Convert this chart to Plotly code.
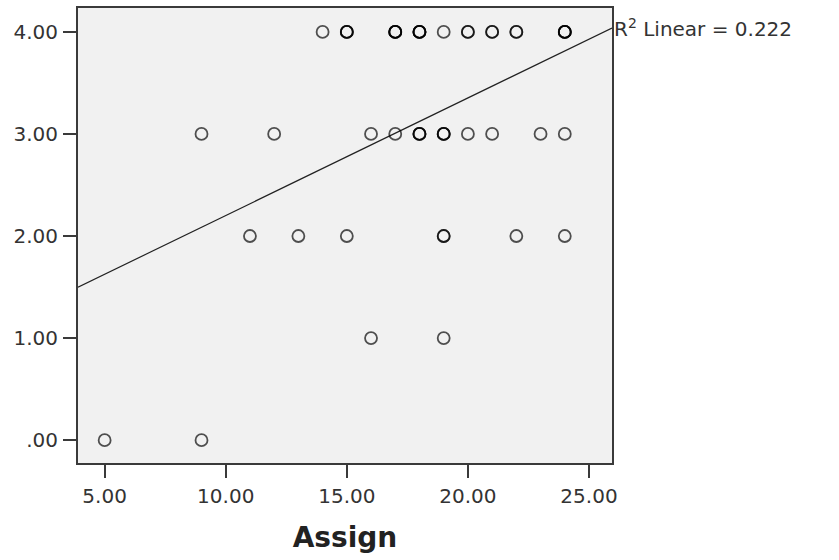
import numpy as np
import plotly.graph_objects as go

# Assignment score vs. outcome (repeated pairs are drawn on top of each other)
assign = [5, 9,
          16, 19,
          11, 13, 15, 19, 19, 22, 24,
          9, 12, 16, 17, 18, 18, 18, 19, 19, 19, 20, 21, 23, 24,
          14, 15, 15, 15, 17, 17, 17, 17, 18, 18, 18, 18, 19, 20, 20,
          21, 21, 22, 22, 24, 24, 24, 24]
outcome = [0, 0,
           1, 1,
           2, 2, 2, 2, 2, 2, 2,
           3, 3, 3, 3, 3, 3, 3, 3, 3, 3, 3, 3, 3, 3,
           4, 4, 4, 4, 4, 4, 4, 4, 4, 4, 4, 4, 4, 4, 4,
           4, 4, 4, 4, 4, 4, 4, 4]

x_ticks = [5, 10, 15, 20, 25]
x_ticktext = ["5.00", "10.00", "15.00", "20.00", "25.00"]
y_ticks = [0, 1, 2, 3, 4]
y_ticktext = [".00", "1.00", "2.00", "3.00", "4.00"]
r2_label = "R<sup>2</sup> Linear = 0.222"

x_range = [3.9, 25.95]
y_range = [-0.224, 4.234]

# least-squares fit line across the full x range
slope, intercept = np.polyfit(assign, outcome, 1)
fit_x = np.array(x_range)
fit_y = intercept + slope * fit_x

FONT = "DejaVu Sans"
INK = "#333333"

fig = go.Figure()
fig.add_trace(go.Scatter(
    x=fit_x, y=fit_y, mode="lines",
    line=dict(color="#222222", width=1.2),
    hoverinfo="skip", showlegend=False,
))
fig.add_trace(go.Scatter(
    x=assign, y=outcome, mode="markers",
    marker=dict(symbol="circle-open", size=12, color="rgba(0,0,0,0.68)",
                line=dict(width=1.8)),
    showlegend=False,
))

fig.add_annotation(
    x=1.0, xref="paper", y=fit_y[1], yref="y",
    text=r2_label, showarrow=False,
    xanchor="left", yanchor="middle", xshift=0,
    font=dict(family=FONT, size=20, color=INK),
)

axis_common = dict(
    showgrid=False, zeroline=False,
    showline=True, mirror=True, linecolor="#3a3a3a", linewidth=2,
    ticks="outside", ticklen=13, tickwidth=2, tickcolor="#3a3a3a",
    tickfont=dict(family=FONT, size=20, color=INK),
    ticklabelstandoff=1,
)

fig.update_xaxes(
    range=x_range, tickvals=x_ticks, ticktext=x_ticktext,
    title=dict(text="<b>Assign</b>", font=dict(family=FONT, size=28, color="#222222"),
               standoff=20),
    **axis_common,
)
fig.update_yaxes(
    range=y_range, tickvals=y_ticks, ticktext=y_ticktext,
    **axis_common,
)

fig.update_layout(
    width=839, height=560,
    margin=dict(l=78, r=227, t=6, b=97),
    plot_bgcolor="#f1f1f1", paper_bgcolor="white",
    font=dict(family=FONT, color=INK),
)

fig.write_html("out.html")
